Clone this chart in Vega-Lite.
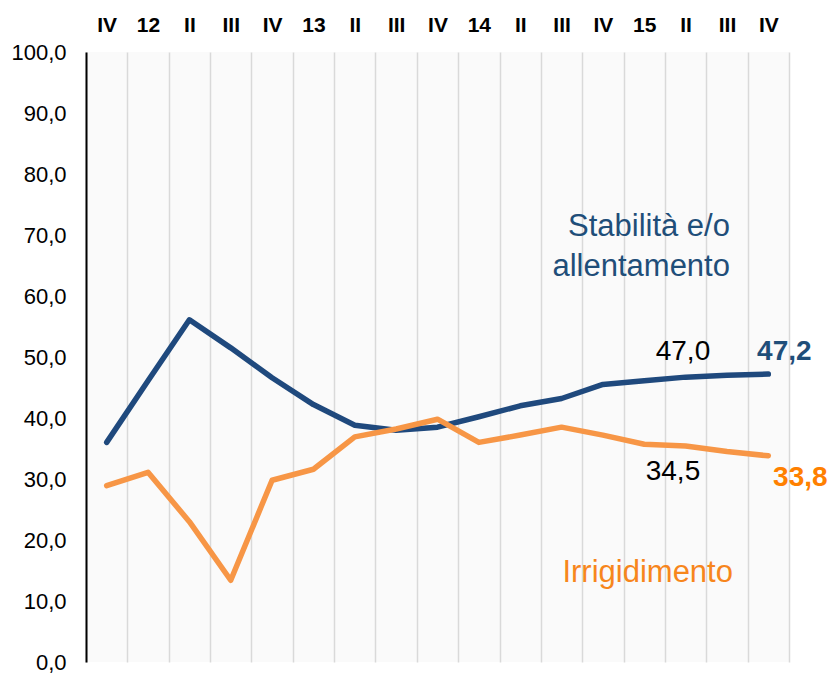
{
  "$schema": "https://vega.github.io/schema/vega-lite/v6.json",
  "autosize": "none",
  "width": 703,
  "height": 610,
  "padding": {"left": 86, "top": 52, "right": 44, "bottom": 13},
  "background": "white",
  "config": {
    "view": {"fill": "#FAFAFA", "stroke": null},
    "font": "Liberation Sans",
    "locale": {"number": {"decimal": ",", "thousands": ".", "grouping": [3], "currency": ["€", ""]}}
  },
  "datasets": {
    "series": [
      {"idx": 1, "period": "IV", "series": "Stabilità e/o allentamento", "value": 36.0},
      {"idx": 2, "period": "12", "series": "Stabilità e/o allentamento", "value": 46.1},
      {"idx": 3, "period": "II", "series": "Stabilità e/o allentamento", "value": 56.1},
      {"idx": 4, "period": "III", "series": "Stabilità e/o allentamento", "value": 51.5},
      {"idx": 5, "period": "IV", "series": "Stabilità e/o allentamento", "value": 46.6},
      {"idx": 6, "period": "13", "series": "Stabilità e/o allentamento", "value": 42.2},
      {"idx": 7, "period": "II", "series": "Stabilità e/o allentamento", "value": 38.8},
      {"idx": 8, "period": "III", "series": "Stabilità e/o allentamento", "value": 38.0},
      {"idx": 9, "period": "IV", "series": "Stabilità e/o allentamento", "value": 38.5},
      {"idx": 10, "period": "14", "series": "Stabilità e/o allentamento", "value": 40.2},
      {"idx": 11, "period": "II", "series": "Stabilità e/o allentamento", "value": 42.0},
      {"idx": 12, "period": "III", "series": "Stabilità e/o allentamento", "value": 43.2},
      {"idx": 13, "period": "IV", "series": "Stabilità e/o allentamento", "value": 45.5},
      {"idx": 14, "period": "15", "series": "Stabilità e/o allentamento", "value": 46.1},
      {"idx": 15, "period": "II", "series": "Stabilità e/o allentamento", "value": 46.7},
      {"idx": 16, "period": "III", "series": "Stabilità e/o allentamento", "value": 47.0},
      {"idx": 17, "period": "IV", "series": "Stabilità e/o allentamento", "value": 47.2},
      {"idx": 1, "period": "IV", "series": "Irrigidimento", "value": 28.9},
      {"idx": 2, "period": "12", "series": "Irrigidimento", "value": 31.1},
      {"idx": 3, "period": "II", "series": "Irrigidimento", "value": 23.0},
      {"idx": 4, "period": "III", "series": "Irrigidimento", "value": 13.4},
      {"idx": 5, "period": "IV", "series": "Irrigidimento", "value": 29.8},
      {"idx": 6, "period": "13", "series": "Irrigidimento", "value": 31.6},
      {"idx": 7, "period": "II", "series": "Irrigidimento", "value": 36.9},
      {"idx": 8, "period": "III", "series": "Irrigidimento", "value": 38.2},
      {"idx": 9, "period": "IV", "series": "Irrigidimento", "value": 39.8},
      {"idx": 10, "period": "14", "series": "Irrigidimento", "value": 36.0},
      {"idx": 11, "period": "II", "series": "Irrigidimento", "value": 37.2},
      {"idx": 12, "period": "III", "series": "Irrigidimento", "value": 38.5},
      {"idx": 13, "period": "IV", "series": "Irrigidimento", "value": 37.2},
      {"idx": 14, "period": "15", "series": "Irrigidimento", "value": 35.7},
      {"idx": 15, "period": "II", "series": "Irrigidimento", "value": 35.4},
      {"idx": 16, "period": "III", "series": "Irrigidimento", "value": 34.5},
      {"idx": 17, "period": "IV", "series": "Irrigidimento", "value": 33.8}
    ],
    "names": [
      {"name": "Stabilità e/o\nallentamento", "series": "Stabilità e/o allentamento", "idx": 16, "value": 71.3},
      {"name": "Irrigidimento", "series": "Irrigidimento", "idx": 16, "value": 14.6}
    ]
  },
  "resolve": {"axis": {"x": "independent"}},
  "layer": [
    {
      "data": {"name": "series"},
      "mark": {"type": "line", "strokeWidth": 5.5, "strokeCap": "round", "strokeJoin": "round"},
      "encoding": {
        "x": {
          "field": "idx", "type": "quantitative",
          "scale": {"domain": [0.5, 17.5], "nice": false, "zero": false},
          "axis": {
            "orient": "top", "title": null, "values": [1,2,3,4,5,6,7,8,9,10,11,12,13,14,15,16,17],
            "labelExpr": "['IV','12','II','III','IV','13','II','III','IV','14','II','III','IV','15','II','III','IV'][datum.value-1]",
            "labelFont": "Liberation Sans", "labelFontWeight": "bold", "labelFontSize": 21, "labelColor": "#000000",
            "labelPadding": 17, "ticks": false, "tickSize": 0, "domain": false, "grid": false, "labelOverlap": false, "labelFlush": false
          }
        },
        "y": {
          "field": "value", "type": "quantitative",
          "scale": {"domain": [0, 100], "nice": false},
          "axis": {
            "title": null, "values": [0,10,20,30,40,50,60,70,80,90,100], "format": ".1f",
            "labelFont": "Liberation Sans", "labelFontSize": 22, "labelColor": "#000000", "labelPadding": 20,
            "ticks": false, "tickSize": 0, "grid": false, "domainColor": "#000000", "domainWidth": 2, "labelFlush": false
          }
        },
        "color": {
          "field": "series", "type": "nominal", "legend": null,
          "scale": {"domain": ["Stabilità e/o allentamento", "Irrigidimento"], "range": ["#1F497D", "#F79646"]}
        },
        "order": {"field": "idx"}
      }
    },
    {
      "data": {"name": "series"},
      "transform": [{"filter": "datum.idx == 16 && datum.series == 'Stabilità e/o allentamento'"}],
      "mark": {"type": "text", "font": "Liberation Sans", "fontSize": 28, "color": "#000000", "dx": -44, "dy": -23, "align": "center", "baseline": "middle"},
      "encoding": {
        "x": {
          "field": "idx", "type": "quantitative",
          "axis": {
            "orient": "bottom", "title": null, "values": [0.5,1.5,2.5,3.5,4.5,5.5,6.5,7.5,8.5,9.5,10.5,11.5,12.5,13.5,14.5,15.5,16.5,17.5],
            "labels": false, "ticks": false, "tickSize": 0, "domain": false, "grid": true, "gridColor": "#D9D9D9", "gridWidth": 1.5
          }
        },
        "y": {"field": "value", "type": "quantitative"},
        "text": {"field": "value", "type": "quantitative", "format": ".1f"}
      }
    },
    {
      "data": {"name": "series"},
      "transform": [{"filter": "datum.idx == 16 && datum.series == 'Irrigidimento'"}],
      "mark": {"type": "text", "font": "Liberation Sans", "fontSize": 28, "color": "#000000", "dx": -54, "dy": 20, "align": "center", "baseline": "middle"},
      "encoding": {
        "x": {"field": "idx", "type": "quantitative", "axis": null},
        "y": {"field": "value", "type": "quantitative"},
        "text": {"field": "value", "type": "quantitative", "format": ".1f"}
      }
    },
    {
      "data": {"name": "series"},
      "transform": [{"filter": "datum.idx == 17 && datum.series == 'Stabilità e/o allentamento'"}],
      "mark": {"type": "text", "font": "Liberation Sans", "fontSize": 28, "fontWeight": "bold", "color": "#1F4E79", "dx": 16, "dy": -22, "align": "center", "baseline": "middle"},
      "encoding": {
        "x": {"field": "idx", "type": "quantitative", "axis": null},
        "y": {"field": "value", "type": "quantitative"},
        "text": {"field": "value", "type": "quantitative", "format": ".1f"}
      }
    },
    {
      "data": {"name": "series"},
      "transform": [{"filter": "datum.idx == 17 && datum.series == 'Irrigidimento'"}],
      "mark": {"type": "text", "font": "Liberation Sans", "fontSize": 28, "fontWeight": "bold", "color": "#FF8000", "dx": 32, "dy": 22, "align": "center", "baseline": "middle"},
      "encoding": {
        "x": {"field": "idx", "type": "quantitative", "axis": null},
        "y": {"field": "value", "type": "quantitative"},
        "text": {"field": "value", "type": "quantitative", "format": ".1f"}
      }
    },
    {
      "data": {"name": "names"},
      "transform": [{"filter": "datum.series == 'Stabilità e/o allentamento'"}],
      "mark": {"type": "text", "font": "Liberation Sans", "fontSize": 31, "color": "#1F4E79", "align": "right", "baseline": "middle", "lineBreak": "\n", "lineHeight": 40, "dx": 3},
      "encoding": {
        "x": {"field": "idx", "type": "quantitative", "axis": null},
        "y": {"field": "value", "type": "quantitative"},
        "text": {"field": "name", "type": "nominal"}
      }
    },
    {
      "data": {"name": "names"},
      "transform": [{"filter": "datum.series == 'Irrigidimento'"}],
      "mark": {"type": "text", "font": "Liberation Sans", "fontSize": 31, "color": "#F7861C", "align": "right", "baseline": "middle", "dx": 6},
      "encoding": {
        "x": {"field": "idx", "type": "quantitative", "axis": null},
        "y": {"field": "value", "type": "quantitative"},
        "text": {"field": "name", "type": "nominal"}
      }
    }
  ]
}
